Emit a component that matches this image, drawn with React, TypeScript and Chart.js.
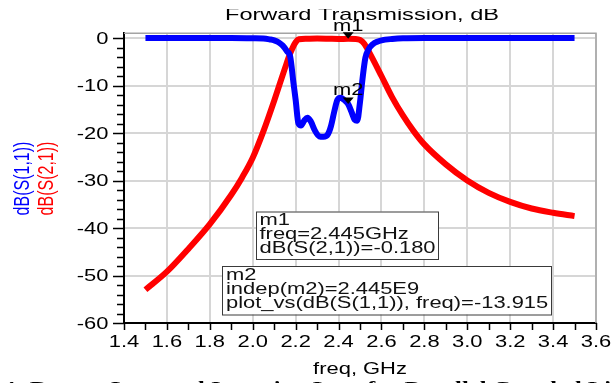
import React, { useEffect, useRef } from "react";
import { Chart, registerables } from "chart.js";

Chart.register(...registerables);

// ---- data ----
const freqS21 = [1.5, 1.6, 1.7, 1.8, 1.9, 1.95, 2.0, 2.05, 2.1, 2.15, 2.175, 2.2, 2.215, 2.25, 2.3, 2.35, 2.4, 2.445, 2.48, 2.5, 2.52, 2.55, 2.6, 2.65, 2.7, 2.75, 2.8, 2.9, 3.0, 3.1, 3.2, 3.3, 3.4, 3.5];
const s21dB = [-53, -49.2, -44.4, -39.2, -33, -29.4, -25.2, -19.6, -13.2, -6.4, -3.2, -0.9, -0.25, -0.15, -0.12, -0.15, -0.2, -0.18, -0.2, -0.4, -1.2, -3.6, -8, -12.5, -16.3, -19.6, -22.4, -26.6, -30, -32.6, -34.5, -35.9, -36.8, -37.5];

const freqS11 = [1.5, 1.6, 1.7, 1.8, 1.9, 2.0, 2.05, 2.08, 2.1, 2.12, 2.14, 2.16, 2.175, 2.19, 2.2, 2.213, 2.225, 2.24, 2.255, 2.27, 2.29, 2.31, 2.33, 2.35, 2.365, 2.38, 2.395, 2.41, 2.425, 2.445, 2.46, 2.475, 2.487, 2.5, 2.512, 2.525, 2.54, 2.56, 2.58, 2.6, 2.65, 2.7, 2.8, 2.9, 3.0, 3.1, 3.2, 3.3, 3.4, 3.5];
const s11dB = [0, 0, 0, 0, 0, -0.05, -0.1, -0.3, -0.5, -0.9, -1.6, -2.8, -4.0, -9.5, -13, -18, -18.4, -17.4, -16.8, -17.5, -19.5, -20.7, -20.8, -20.3, -18.5, -15.5, -13, -12.6, -13, -13.915, -15.5, -17.2, -17.4, -13.5, -8.5, -4.2, -2.4, -1.3, -0.8, -0.5, -0.2, -0.05, 0, 0, 0, 0, 0, 0, 0, 0];

const xTickValues = [1.4, 1.6, 1.8, 2.0, 2.2, 2.4, 2.6, 2.8, 3.0, 3.2, 3.4, 3.6];
const xTickLabels = ["1.4", "1.6", "1.8", "2.0", "2.2", "2.4", "2.6", "2.8", "3.0", "3.2", "3.4", "3.6"];
const yTickValues = [-60, -50, -40, -30, -20, -10, 0];
const yTickLabels = ["-60", "-50", "-40", "-30", "-20", "-10", "0"];

const m1Freq = 2.445;
const m1Value = -0.18;
const m2Freq = 2.445;
const m2Value = -13.915;

const m1Lines = ["m1", "freq=2.445GHz", "dB(S(2,1))=-0.180"];
const m2Lines = ["m2", "indep(m2)=2.445E9", "plot_vs(dB(S(1,1)), freq)=-13.915"];

const SANS = '"Liberation Sans", Arial, sans-serif';
const F16 = `16px ${SANS}`;
const SX = 1.37;

function stxt(ctx: CanvasRenderingContext2D, text: string, x: number, y: number, align: string, font: string, color: string, sx: number) {
  ctx.save();
  ctx.font = font;
  ctx.fillStyle = color;
  ctx.textBaseline = "alphabetic";
  ctx.textAlign = "left";
  const w = ctx.measureText(text).width * sx;
  const x0 = align === "center" ? x - w / 2 : align === "right" ? x - w : x;
  ctx.translate(x0, y);
  ctx.scale(sx, 1);
  ctx.fillText(text, 0, 0);
  ctx.restore();
}

function fitText(ctx: CanvasRenderingContext2D, text: string, cx: number, y: number, width: number, font: string, color: string) {
  ctx.save();
  ctx.font = font;
  const sx = width / ctx.measureText(text).width;
  ctx.restore();
  stxt(ctx, text, cx, y, "center", font, color, sx);
}

function rotText(ctx: CanvasRenderingContext2D, text: string, x: number, y: number, color: string) {
  ctx.save();
  ctx.font = F16;
  ctx.fillStyle = color;
  ctx.textAlign = "center";
  ctx.textBaseline = "alphabetic";
  ctx.translate(x, y);
  ctx.rotate(-Math.PI / 2);
  ctx.scale(1, SX);
  ctx.fillText(text, 0, 0);
  ctx.restore();
}

const decor = {
  id: "decor",
  afterDraw(chart: any) {
    const { ctx, chartArea: a, scales } = chart;
    const xs = scales.x;
    const ys = scales.y;
    ctx.save();

    // top / right frame
    ctx.strokeStyle = "#a4a4a4";
    ctx.lineWidth = 1.5;
    ctx.beginPath();
    ctx.moveTo(a.left, a.top);
    ctx.lineTo(a.right, a.top);
    ctx.lineTo(a.right, a.bottom);
    ctx.stroke();

    // tick marks
    ctx.strokeStyle = "#000";
    ctx.lineWidth = 1.5;
    ctx.beginPath();
    for (let v = -60; v <= 0; v += 2) {
      const py = Math.round(ys.getPixelForValue(v)) + 0.5;
      const len = v % 10 === 0 ? 11 : 7;
      ctx.moveTo(a.left - len, py);
      ctx.lineTo(a.left, py);
    }
    for (let i = 0; i <= 22; i++) {
      const px = Math.round(xs.getPixelForValue(1.4 + i * 0.1)) + 0.5;
      ctx.moveTo(px, a.bottom);
      ctx.lineTo(px, a.bottom + 7);
    }
    ctx.stroke();

    // tick labels
    yTickValues.forEach((v, i) => {
      stxt(ctx, yTickLabels[i], a.left - 15.5, ys.getPixelForValue(v) + 5.7, "right", F16, "#000", SX);
    });
    xTickValues.forEach((v, i) => {
      stxt(ctx, xTickLabels[i], xs.getPixelForValue(v), 346.5, "center", F16, "#000", SX);
    });

    // axis titles
    stxt(ctx, "freq, GHz", (a.left + a.right) / 2, 374, "center", F16, "#000", SX);
    rotText(ctx, "dB(S(1,1))", 28.5, 178.5, "#0000ff");
    rotText(ctx, "dB(S(2,1))", 52.5, 178.5, "#ff0000");

    // chart title (top clipped like the reference)
    fitText(ctx, "Forward Transmission, dB", 362, 19.5, 274, `17px ${SANS}`, "#000");
    ctx.fillStyle = "#fff";
    ctx.fillRect(150, 0, 400, 9);

    // markers
    const drawMarker = (f: number, v: number, label: string, off: number) => {
      const px = xs.getPixelForValue(f);
      const py = ys.getPixelForValue(v);
      ctx.fillStyle = "#000";
      ctx.beginPath();
      ctx.moveTo(px - 5.5, py - 6.5);
      ctx.lineTo(px + 5.5, py - 6.5);
      ctx.lineTo(px, py);
      ctx.closePath();
      ctx.fill();
      stxt(ctx, label, px, py - off, "center", F16, "#000", SX);
    };
    drawMarker(m1Freq, m1Value, "m1", 8);
    drawMarker(m2Freq, m2Value, "m2", 9);

    // marker readout boxes
    const box = (x: number, y: number, w: number, h: number, lines: string[], tx: number, ty: number) => {
      ctx.fillStyle = "#fff";
      ctx.fillRect(x, y, w, h);
      ctx.strokeStyle = "#3a3a3a";
      ctx.lineWidth = 1;
      ctx.strokeRect(x + 0.5, y + 0.5, w, h);
      lines.forEach((t, i) => stxt(ctx, t, tx, ty + i * 14.2, "left", F16, "#111", SX));
    };
    box(256, 211.5, 182, 47.5, m1Lines, 259.5, 225);
    box(222, 266, 329, 48.5, m2Lines, 226, 280);

    // caption (partially cut at the bottom edge)
    ctx.save();
    const capFont = `bold 17px "Liberation Serif", "Times New Roman", serif`;
    ctx.font = capFont;
    const visible = "4: Return Loss and Insertion Loss for Parallel Coupled Li";
    const csx = 608 / ctx.measureText(visible).width;
    const pre = ctx.measureText("Fig. ").width * csx;
    ctx.restore();
    stxt(ctx, "Fig. 4: Return Loss and Insertion Loss for Parallel Coupled Line Filter", 3 - pre, 392.5, "left", capFont, "#000", csx);

    ctx.restore();
  },
};

export default function App() {
  const ref = useRef<HTMLCanvasElement | null>(null);

  useEffect(() => {
    const canvas = ref.current;
    if (!canvas) return;
    const chart = new Chart(canvas, {
      type: "line",
      data: {
        datasets: [
          {
            label: "dB(S(1,1))",
            data: freqS11.map((f, i) => ({ x: f, y: s11dB[i] })),
            borderColor: "#0000ff",
            borderWidth: 6,
            pointRadius: 0,
            cubicInterpolationMode: "monotone",
            fill: false,
          },
          {
            label: "dB(S(2,1))",
            data: freqS21.map((f, i) => ({ x: f, y: s21dB[i] })),
            borderColor: "#ff0000",
            borderWidth: 6,
            pointRadius: 0,
            cubicInterpolationMode: "monotone",
            fill: false,
          },
        ],
      },
      options: {
        animation: false,
        responsive: false,
        devicePixelRatio: 1,
        layout: { padding: { top: 33.25, right: 15, left: 0, bottom: 0 } },
        plugins: {
          legend: { display: false },
          tooltip: { enabled: false },
          title: { display: false },
        },
        scales: {
          x: {
            type: "linear",
            min: 1.4,
            max: 3.6,
            afterBuildTicks: (s: any) => {
              s.ticks = xTickValues.map((v) => ({ value: v }));
            },
            afterFit: (s: any) => {
              s.height = 60;
            },
            ticks: { display: false },
            grid: { color: "#d6d6d6", lineWidth: 2, drawTicks: false },
            border: { display: true, color: "#000", width: 2 },
          },
          y: {
            type: "linear",
            min: -60,
            max: 1,
            afterBuildTicks: (s: any) => {
              s.ticks = yTickValues.map((v) => ({ value: v }));
            },
            afterFit: (s: any) => {
              s.width = 124;
            },
            ticks: { display: false },
            grid: { color: "#d6d6d6", lineWidth: 2, drawTicks: false },
            border: { display: true, color: "#000", width: 2 },
          },
        },
      } as any,
      plugins: [decor],
    });
    return () => chart.destroy();
  }, []);

  return (
    <div style={{ position: "fixed", left: 0, top: 0, width: 611, height: 383, background: "#fff", overflow: "hidden" }}>
      <canvas ref={ref} width={611} height={383} style={{ display: "block", width: 611, height: 383 }} />
    </div>
  );
}
